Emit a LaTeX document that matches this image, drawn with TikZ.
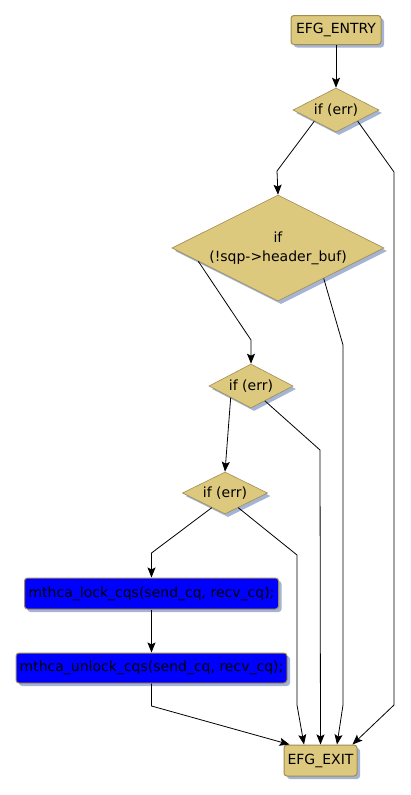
\documentclass[tikz,border=0pt]{standalone}
\usepackage{fontspec}
\setmainfont{DejaVu Sans}
\usepackage{tikz}
\usetikzlibrary{arrows.meta, calc, shapes.geometric, shadows}
\definecolor{khaki}{RGB}{220,201,126}
\definecolor{olive}{RGB}{160,140,80}
\definecolor{shadowblue}{RGB}{165,180,212}
\definecolor{pureblue}{RGB}{0,0,255}

\begin{document}
\begin{tikzpicture}[
  x=1pt, y=-1pt,
  >={Stealth[length=10pt, width=8pt, inset=2pt]},
  every node/.style={font=\fontsize{14}{19}\selectfont},
  shade/.style={drop shadow={shadow xshift=3pt, shadow yshift=-3pt, fill=shadowblue, opacity=1}},
  term/.style={draw=olive, fill=khaki, rounded corners=3pt, line width=1pt, shade,
    inner sep=2pt, align=center},
  cond/.style={diamond, draw=olive, fill=khaki, line width=0.6pt, shade,
    aspect=2, inner sep=1pt, align=center},
  call/.style={draw=olive, fill=pureblue, rounded corners=3pt, line width=1pt, shade,
    inner sep=2pt, minimum height=30pt},
  flow/.style={->, line width=0.8pt}
]
\useasboundingbox (0,0) rectangle (410,795);

\node[term, minimum width=90pt, minimum height=29pt] (entry) at (336,30) {EFG\_ENTRY};
\node[cond, minimum width=86pt, minimum height=44pt] (err1) at (336,110) {if (err)};
\node[cond, minimum width=212pt, minimum height=106pt] (hdr) at (278,248) {if\\(!sqp->header\_buf)};
\node[cond, minimum width=84pt, minimum height=44pt] (err2) at (251,386) {if (err)};
\node[cond, minimum width=85pt, minimum height=42pt] (err3) at (225,493) {if (err)};
\node[call, minimum width=254pt, minimum height=31pt] (lock) at (151.5,593.5) {mthca\_lock\_cqs(send\_cq, recv\_cq);};
\node[call, minimum width=271pt] (unlock) at (151.5,668) {mthca\_unlock\_cqs(send\_cq, recv\_cq);};
\node[term, minimum width=73pt, minimum height=31pt] (exit) at (320.5,760.5) {EFG\_EXIT};

\draw[flow] (entry.south) -- (err1.north);
\draw[flow] (err1.south west) -- (277,171) -- (hdr.north);
\draw[flow] (err1.south east) -- (394,172) -- (394,705) -- ($(exit.north east)+(-5,0)$);
\draw[flow] ($(hdr.west)!0.25!(hdr.south)$) -- (251,340) -- (err2.north);
\draw[flow] ($(hdr.east)!0.57!(hdr.south)$) -- (343,345) -- (343,705) -- ($(exit.north)+(16.5,0)$);
\draw[flow] ($(err2.west)!0.52!(err2.south)$) -- (err3.north);
\draw[flow] ($(err2.east)!0.67!(err2.south)$) -- (320,450) -- (exit.north);
\draw[flow] ($(err3.west)!0.69!(err3.south)$) -- (151.5,553) -- (lock.north);
\draw[flow] ($(err3.east)!0.69!(err3.south)$) -- (297,555) -- (297,705) -- ($(exit.north)+(-16.5,0)$);
\draw[flow] (lock.south) -- (unlock.north);
\draw[flow] (unlock.south) -- (151.5,706) -- ($(exit.north west)+(6,0)$);
\end{tikzpicture}
\end{document}
